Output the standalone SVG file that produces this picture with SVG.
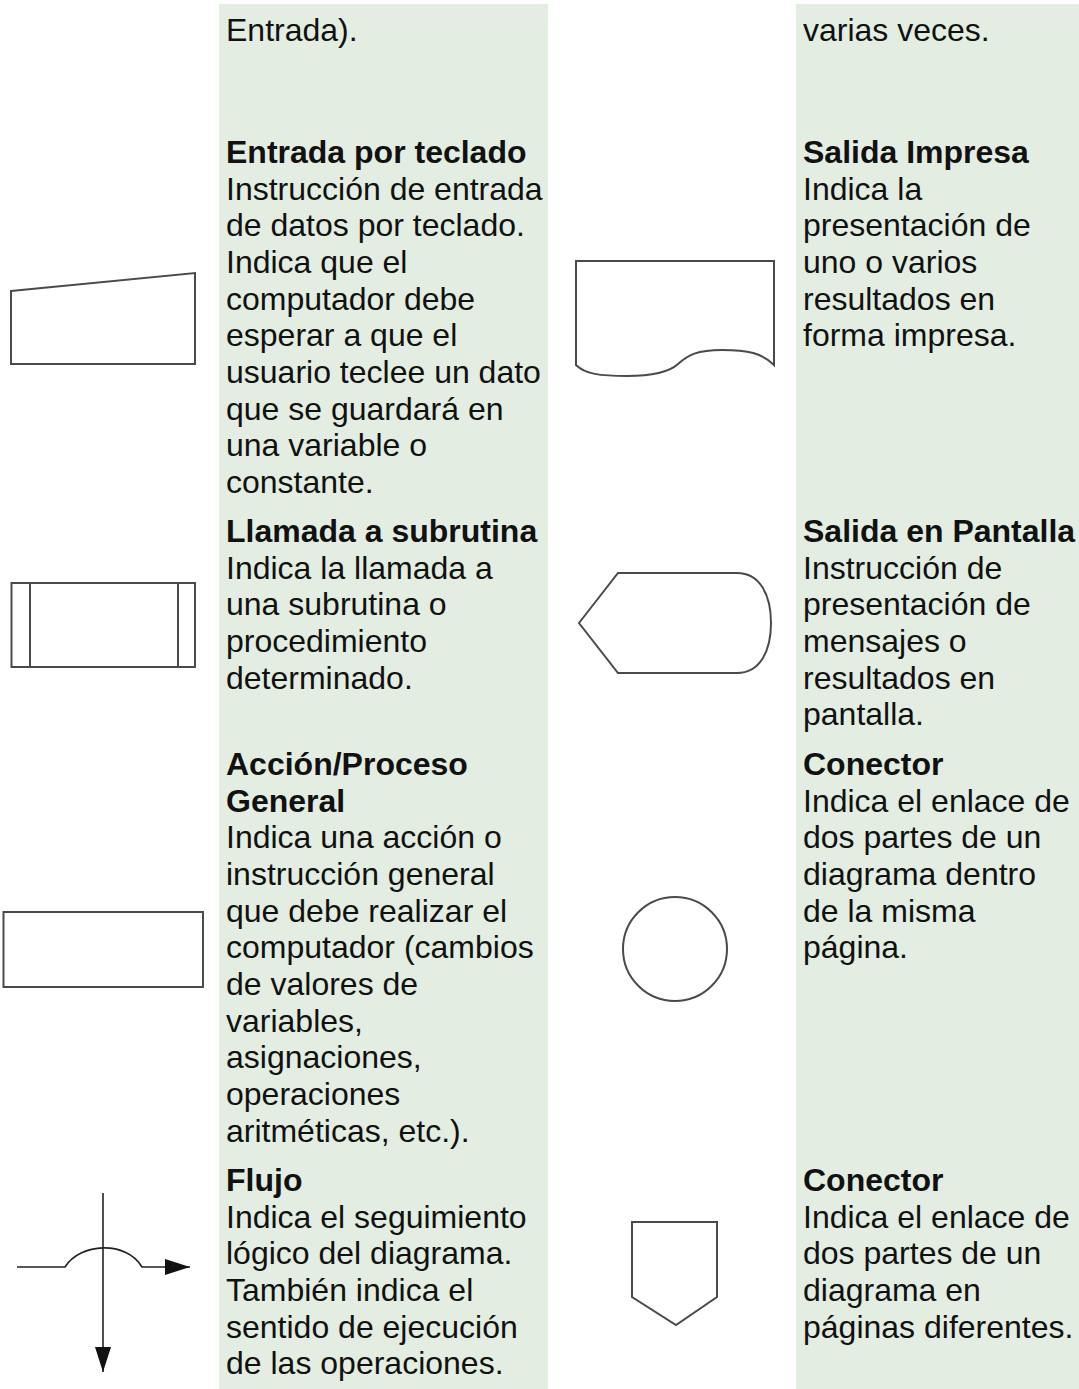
<svg xmlns="http://www.w3.org/2000/svg" width="1079" height="1389" viewBox="0 0 1079 1389">
<style>
.bg{fill:#ffffff}
.col{fill:#e3ede2}
.t{font-family:"Liberation Sans",Arial,sans-serif;font-size:32px;fill:#111}
.b{font-weight:bold}
.sh{fill:#ffffff;stroke:#4a4a4a;stroke-width:2}
.ln{fill:none;stroke:#222;stroke-width:1.6}
</style>
<defs>
<marker id="ah" markerUnits="userSpaceOnUse" markerWidth="25" markerHeight="16" viewBox="0 0 25 16" refX="25" refY="8" orient="auto">
<path d="M0,0 L25,8 L0,16 Z" fill="#111"/>
</marker>
</defs>
<rect class="bg" x="0" y="0" width="1079" height="1389"/>
<rect class="col" x="219" y="4" width="329" height="1385"/>
<rect class="col" x="796" y="4" width="283" height="1385"/>

<g id="entrada-texto">
<text class="t" x="226" y="41">Entrada).</text>
</g>
<g id="varias-veces">
<text class="t" x="803" y="41">varias veces.</text>
</g>

<g id="entrada-teclado">
<path class="sh" d="M11,291 L195,273 L195,364 L11,364 Z"/>
<text class="t" x="226" y="163"><tspan class="b">Entrada por teclado</tspan><tspan x="226" dy="36.67">Instrucción de entrada</tspan><tspan x="226" dy="36.67">de datos por teclado.</tspan><tspan x="226" dy="36.67">Indica que el</tspan><tspan x="226" dy="36.67">computador debe</tspan><tspan x="226" dy="36.67">esperar a que el</tspan><tspan x="226" dy="36.67">usuario teclee un dato</tspan><tspan x="226" dy="36.67">que se guardará en</tspan><tspan x="226" dy="36.67">una variable o</tspan><tspan x="226" dy="36.67">constante.</tspan></text>
</g>

<g id="salida-impresa">
<path class="sh" d="M576,261 L774,261 L774,365 C762,353 748,350 722,350 C697,350 688,355 678,364 C667,374 648,376 627,376 C600,376 585,374 576,365 Z"/>
<text class="t" x="803" y="163"><tspan class="b">Salida Impresa</tspan><tspan x="803" dy="36.67">Indica la</tspan><tspan x="803" dy="36.67">presentación de</tspan><tspan x="803" dy="36.67">uno o varios</tspan><tspan x="803" dy="36.67">resultados en</tspan><tspan x="803" dy="36.67">forma impresa.</tspan></text>
</g>

<g id="llamada-subrutina">
<rect class="sh" x="11.5" y="583" width="183.5" height="84"/>
<line class="sh" x1="11.5" y1="583" x2="195" y2="583" stroke-width="3"/>
<line class="sh" x1="30" y1="583" x2="30" y2="667"/>
<line class="sh" x1="178" y1="583" x2="178" y2="667"/>
<text class="t" x="226" y="542"><tspan class="b">Llamada a subrutina</tspan><tspan x="226" dy="36.67">Indica la llamada a</tspan><tspan x="226" dy="36.67">una subrutina o</tspan><tspan x="226" dy="36.67">procedimiento</tspan><tspan x="226" dy="36.67">determinado.</tspan></text>
</g>

<g id="salida-pantalla">
<path class="sh" stroke="#222" d="M579,623 L618,573 L737,573 C760,573 771,595 771,623 C771,651 760,673 737,673 L618,673 Z"/>
<text class="t" x="803" y="542"><tspan class="b">Salida en Pantalla</tspan><tspan x="803" dy="36.67">Instrucción de</tspan><tspan x="803" dy="36.67">presentación de</tspan><tspan x="803" dy="36.67">mensajes o</tspan><tspan x="803" dy="36.67">resultados en</tspan><tspan x="803" dy="36.67">pantalla.</tspan></text>
</g>

<g id="proceso">
<rect class="sh" stroke="#222" x="3.5" y="912" width="199.5" height="75"/>
<text class="t" x="226" y="775"><tspan class="b">Acción/Proceso</tspan><tspan class="b" x="226" dy="36.67">General</tspan><tspan x="226" dy="36.67">Indica una acción o</tspan><tspan x="226" dy="36.67">instrucción general</tspan><tspan x="226" dy="36.67">que debe realizar el</tspan><tspan x="226" dy="36.67">computador (cambios</tspan><tspan x="226" dy="36.67">de valores de</tspan><tspan x="226" dy="36.67">variables,</tspan><tspan x="226" dy="36.67">asignaciones,</tspan><tspan x="226" dy="36.67">operaciones</tspan><tspan x="226" dy="36.67">aritméticas, etc.).</tspan></text>
</g>

<g id="conector">
<circle class="sh" cx="675" cy="949" r="52"/>
<text class="t" x="803" y="775"><tspan class="b">Conector</tspan><tspan x="803" dy="36.67">Indica el enlace de</tspan><tspan x="803" dy="36.67">dos partes de un</tspan><tspan x="803" dy="36.67">diagrama dentro</tspan><tspan x="803" dy="36.67">de la misma</tspan><tspan x="803" dy="36.67">página.</tspan></text>
</g>

<g id="flujo">
<path class="ln" d="M17,1267 H65 C80,1243 126,1240 142,1267 H190" marker-end="url(#ah)"/>
<path class="ln" d="M103,1193 V1372" marker-end="url(#ah)"/>
<text class="t" x="226" y="1191"><tspan class="b">Flujo</tspan><tspan x="226" dy="36.67">Indica el seguimiento</tspan><tspan x="226" dy="36.67">lógico del diagrama.</tspan><tspan x="226" dy="36.67">También indica el</tspan><tspan x="226" dy="36.67">sentido de ejecución</tspan><tspan x="226" dy="36.67">de las operaciones.</tspan></text>
</g>

<g id="conector-pagina">
<path class="sh" stroke="#222" d="M632,1222 L717,1222 L717,1297 L676,1325 L632,1297 Z"/>
<text class="t" x="803" y="1191"><tspan class="b">Conector</tspan><tspan x="803" dy="36.67">Indica el enlace de</tspan><tspan x="803" dy="36.67">dos partes de un</tspan><tspan x="803" dy="36.67">diagrama en</tspan><tspan x="803" dy="36.67">páginas diferentes.</tspan></text>
</g>

<g id="connectors"></g>
</svg>
